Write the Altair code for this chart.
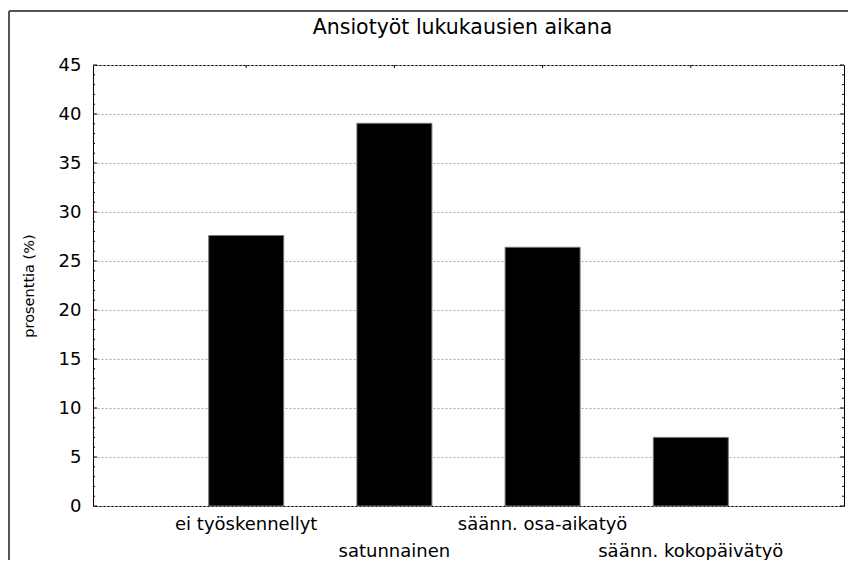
import altair as alt
import pandas as pd

categories = ["ei työskennellyt", "satunnainen", "säänn. osa-aikatyö", "säänn. kokopäivätyö"]
positions = [1, 2, 3, 4]
values = [27.6, 39.05, 26.4, 7.0]
label_rows = [0, 1, 0, 1]
y_ticks = list(range(0, 46, 5))
minor_ticks = [v for v in range(0, 46) if v % 5 != 0]

W, H = 751, 441
FONT = "DejaVu Sans"

df = pd.DataFrame({"cat": categories, "pos": positions, "value": values, "row": label_rows})
major_df = pd.DataFrame({"v": y_ticks})
minor_df = pd.DataFrame({"v": minor_ticks})

xs = alt.Scale(domain=[0, 5], nice=False, zero=False)
ys = alt.Scale(domain=[0, 45], nice=False)

yax = alt.Axis(values=y_ticks, ticks=False, domain=False, grid=True,
               gridDash=[2, 2], gridColor="#aaaaaa", gridWidth=1,
               labelFontSize=18, labelPadding=12, labelColor="black",
               labelFont=FONT, titleFont=FONT, titleFontSize=14.5,
               titleFontWeight="normal", titleColor="black", titlePadding=22)
YT = "prosenttia (%)"

base = alt.Chart(df)

bars = base.mark_bar(color="black", stroke="#777777", strokeWidth=1, size=75).encode(
    x=alt.X("pos:Q", scale=xs, axis=None),
    y=alt.Y("value:Q", scale=ys, title=YT, axis=yax),
)

labels_top = base.transform_filter(alt.datum.row == 0).mark_text(
    fontSize=18, font=FONT, baseline="middle", color="black").encode(
    x=alt.X("pos:Q", scale=xs, axis=None), y=alt.value(H + 19), text="cat:N")
labels_bot = base.transform_filter(alt.datum.row == 1).mark_text(
    fontSize=18, font=FONT, baseline="middle", color="black").encode(
    x=alt.X("pos:Q", scale=xs, axis=None), y=alt.value(H + 46), text="cat:N")

def yticks(d, x1, x2):
    return alt.Chart(d).mark_rule(color="black", strokeWidth=1).encode(
        y=alt.Y("v:Q", scale=ys, title=YT, axis=yax), x=alt.value(x1), x2=alt.value(x2))

lt_major = yticks(major_df, 0, 4)
lt_minor = yticks(minor_df, 0, 2)
rt_major = yticks(major_df, W, W - 4)
rt_minor = yticks(minor_df, W, W - 2)

def xticks(y1, y2):
    return base.mark_rule(color="black", strokeWidth=1).encode(
        x=alt.X("pos:Q", scale=xs, axis=None), y=alt.value(y1), y2=alt.value(y2))

top_t = xticks(0, 3)
bot_t = xticks(H, H - 3)

frame_left = base.mark_rule(color="#555555", strokeWidth=1.5).encode(
    x=alt.value(-84), y=alt.value(-54), y2=alt.value(H + 80))
frame_top = base.mark_rule(color="#555555", strokeWidth=1.5).encode(
    x=alt.value(-84), x2=alt.value(W + 20), y=alt.value(-54))

chart = alt.layer(
    bars, labels_top, labels_bot, lt_major, lt_minor, rt_major, rt_minor,
    top_t, bot_t, frame_left, frame_top
).properties(
    width=W, height=H,
    title=alt.TitleParams("Ansiotyöt lukukausien aikana", fontSize=20.5, font=FONT,
                          fontWeight="normal", color="black", anchor="middle",
                          offset=-28, dx=-6),
    autosize=alt.AutoSizeParams(type="none"),
    padding={"left": 85, "top": 57, "right": 4, "bottom": 54},
    background="white",
).configure_view(stroke="black", strokeWidth=1)

chart.save("out.html", embed_options={"renderer": "svg", "actions": False})
